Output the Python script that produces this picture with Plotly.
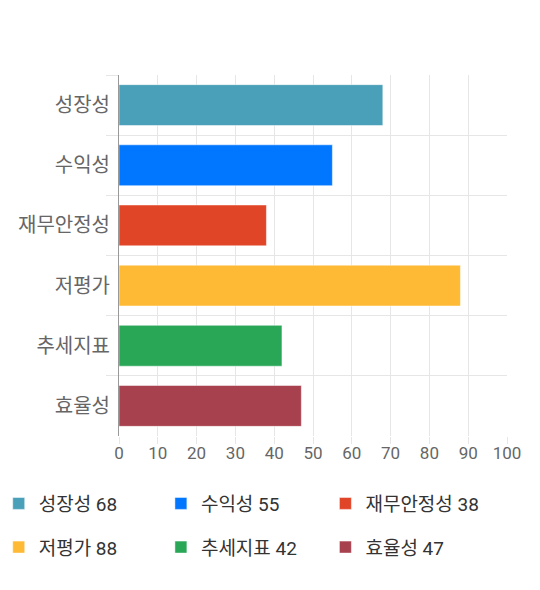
'''
Horizontal bar chart of the six evaluation scores.
'''

import plotly.graph_objects as go

categories = ['성장성', '수익성', '재무안정성', '저평가', '추세지표', '효율성']
scores = [68, 55, 38, 88, 42, 47]
colors = ['#4aa0b8', '#0077fe', '#e14527', '#feba35', '#29a656', '#a8414e']
x_ticks = list(range(0, 101, 10))

# legend columns: first and fourth entries share a column, and so on
legend_ids = ['legend', 'legend2', 'legend3', 'legend', 'legend2', 'legend3']

fig = go.Figure()

for name, score, color, legend_id in zip(categories, scores, colors, legend_ids):
    fig.add_trace(go.Bar(
        y=[name], x=[score], orientation='h',
        name=f'{name} {score}',
        legend=legend_id, legendgroup=name,
        marker={"color": color, "line": {"color": 'rgba(255,255,255,0.5)', "width": 1}},
        hoverinfo='x+y'))

legend_style = {"orientation": 'v', "xanchor": 'left', "yanchor": 'top',
                "y": -0.1345, "tracegroupgap": 16,
                "font": {"size": 19, "color": '#333333'},
                "bgcolor": 'rgba(0,0,0,0)'}

# the page body adds an 8px offset, so the figure is a bit smaller than the window
fig.update_layout(
    width=532, height=582,
    margin={"l": 111, "r": 33, "t": 67, "b": 154, "autoexpand": False},
    paper_bgcolor='white', plot_bgcolor='white',
    font={"family": 'Roboto, "Noto Sans CJK KR"', "color": '#666666', "size": 17},
    barmode='overlay', bargap=0.32,
    legend={**legend_style, "x": -0.31},
    legend2={**legend_style, "x": 0.108},
    legend3={**legend_style, "x": 0.532},
)

fig.update_xaxes(
    range=[0, 100], tickvals=x_ticks, showgrid=True, gridcolor='#e6e6e6',
    ticks='outside', ticklen=7, tickcolor='#e6e6e6', ticklabelstandoff=-5,
    tickfont={"size": 17, "color": '#666666'}, zeroline=False,
    showline=False, fixedrange=True, automargin=False)

fig.update_yaxes(
    categoryorder='array', categoryarray=categories, autorange='reversed',
    tickson='boundaries', showgrid=True, gridcolor='#e6e6e6',
    ticks='outside', ticklen=12, tickcolor='#e6e6e6', ticklabelstandoff=4,
    showline=True, linecolor='#999999', linewidth=1,
    tickfont={"size": 20, "color": '#666666'}, fixedrange=True,
    automargin=False)

fig.write_html("out.html")
